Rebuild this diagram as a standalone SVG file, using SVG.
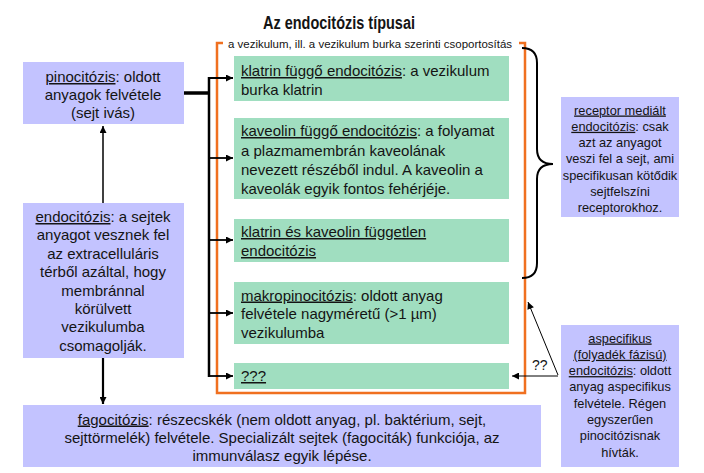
<svg xmlns="http://www.w3.org/2000/svg" width="704" height="473" viewBox="0 0 704 473">
<defs>
<marker id="ah" viewBox="0 0 10 10" refX="10" refY="5" markerUnits="userSpaceOnUse" markerWidth="8" markerHeight="7" orient="auto">
<path d="M0,0 L10,5 L0,10 Z" fill="#000"/>
</marker>
</defs>
<style>
.t{font-family:"Liberation Sans",Arial,sans-serif;fill:#141414}
.g{fill:#A0DEC0}
.p{fill:#C3C3FF}
.c{font-size:15px;text-anchor:middle}
.l{font-size:15px}
.s{font-size:12.8px;text-anchor:middle}
.u{text-decoration:underline}
.ln{stroke:#000;fill:none}
</style>
<rect width="704" height="473" fill="#fff"/>
<text class="t" x="339" y="29" font-size="18" font-weight="bold" text-anchor="middle" textLength="152" lengthAdjust="spacingAndGlyphs">Az endocitózis típusai</text>

<g id="frame">
<path d="M223 43 L217 43 L217 393 L525 393 L525 43 L519 43" fill="none" stroke="#F07020" stroke-width="2.5"/>
<text class="t" x="228" y="47.5" font-size="11" textLength="284" lengthAdjust="spacingAndGlyphs">a vezikulum, ill. a vezikulum burka szerinti csoportosítás</text>
</g>

<g id="pinocitozis">
<rect class="p" x="23" y="62" width="161" height="62"/>
<text class="t c" x="103" y="82"><tspan class="u">pinocitózis</tspan>: oldott</text>
<text class="t c" x="103" y="100">anyagok felvétele</text>
<text class="t c" x="103" y="118">(sejt ivás)</text>
</g>

<g id="endocitozis">
<rect class="p" x="23" y="203" width="161" height="155"/>
<text class="t c" x="103" y="222"><tspan class="u">endocitózis</tspan>: a sejtek</text>
<text class="t c" x="103" y="240.4">anyagot vesznek fel</text>
<text class="t c" x="103" y="258.8">az extracelluláris</text>
<text class="t c" x="103" y="277.2">térből azáltal, hogy</text>
<text class="t c" x="103" y="295.6">membránnal</text>
<text class="t c" x="103" y="314">körülvett</text>
<text class="t c" x="103" y="332.4">vezikulumba</text>
<text class="t c" x="103" y="350.8">csomagolják.</text>
</g>

<g id="fagocitozis">
<rect class="p" x="23" y="405" width="518" height="62"/>
<text class="t c" x="282" y="424.5" font-size="15.5"><tspan class="u">fagocitózis</tspan>: részecskék (nem oldott anyag, pl. baktérium, sejt,</text>
<text class="t c" x="282" y="442.5" font-size="15.5">sejttörmelék) felvétele. Specializált sejtek (fagociták) funkciója, az</text>
<text class="t c" x="282" y="460.5" font-size="15.5">immunválasz egyik lépése.</text>
</g>

<g id="klatrin">
<rect class="g" x="234" y="56" width="275" height="45"/>
<text class="t l" x="241" y="76"><tspan class="u">klatrin függő endocitózis</tspan>: a vezikulum</text>
<text class="t l" x="241" y="95">burka klatrin</text>
</g>

<g id="kaveolin">
<rect class="g" x="234" y="118" width="275" height="81"/>
<text class="t l" x="241" y="136"><tspan class="u">kaveolin függő endocitózis</tspan>: a folyamat</text>
<text class="t l" x="241" y="156">a plazmamembrán kaveolának</text>
<text class="t l" x="241" y="175">nevezett részéből indul. A kaveolin a</text>
<text class="t l" x="241" y="194">kaveolák egyik fontos fehérjéje.</text>
</g>

<g id="fuggetlen">
<rect class="g" x="234" y="219" width="275" height="43"/>
<text class="t l" x="241" y="237"><tspan class="u">klatrin és kaveolin független</tspan></text>
<text class="t l" x="241" y="256"><tspan class="u">endocitózis</tspan></text>
</g>

<g id="makropinocitozis">
<rect class="g" x="234" y="282" width="275" height="62"/>
<text class="t l" x="241" y="300.5"><tspan class="u">makropinocitózis</tspan>: oldott anyag</text>
<text class="t l" x="241" y="319">felvétele nagyméretű (&gt;1 µm)</text>
<text class="t l" x="241" y="337.5">vezikulumba</text>
</g>

<g id="ismeretlen">
<rect class="g" x="234" y="363" width="275" height="26"/>
<text class="t l" x="241" y="381"><tspan class="u">???</tspan></text>
</g>

<g id="receptor">
<rect class="p" x="561" y="97" width="118" height="120"/>
<text class="t s" x="620" y="114.5"><tspan class="u">receptor mediált</tspan></text>
<text class="t s" x="620" y="130.8"><tspan class="u">endocitózis</tspan>: csak</text>
<text class="t s" x="620" y="147.1">azt az anyagot</text>
<text class="t s" x="620" y="163.4">veszi fel a sejt, ami</text>
<text class="t s" x="620" y="179.7">specifikusan kötődik</text>
<text class="t s" x="620" y="196">sejtfelszíni</text>
<text class="t s" x="620" y="212.3">receptorokhoz.</text>
</g>

<g id="aspecifikus">
<rect class="p" x="561" y="325" width="118" height="142"/>
<text class="t s" x="620" y="342.5"><tspan class="u">aspecifikus</tspan></text>
<text class="t s" x="620" y="358.8"><tspan class="u">(folyadék fázisú)</tspan></text>
<text class="t s" x="620" y="375.1"><tspan class="u">endocitózis</tspan>: oldott</text>
<text class="t s" x="620" y="391.4">anyag aspecifikus</text>
<text class="t s" x="620" y="407.7">felvétele. Régen</text>
<text class="t s" x="620" y="424">egyszerűen</text>
<text class="t s" x="620" y="440.3">pinocitózisnak</text>
<text class="t s" x="620" y="456.6">hívták.</text>
</g>

<g id="connectors">
<line class="ln" x1="184" y1="93" x2="209" y2="93" stroke-width="3.5"/>
<line class="ln" x1="209" y1="77" x2="209" y2="377" stroke-width="2.5"/>
<line class="ln" x1="208" y1="78" x2="233" y2="78" stroke-width="2" marker-end="url(#ah)"/>
<line class="ln" x1="209" y1="158" x2="233" y2="158" stroke-width="1.8" marker-end="url(#ah)"/>
<line class="ln" x1="209" y1="240" x2="233" y2="240" stroke-width="1.8" marker-end="url(#ah)"/>
<line class="ln" x1="209" y1="313" x2="233" y2="313" stroke-width="1.8" marker-end="url(#ah)"/>
<line class="ln" x1="208" y1="376" x2="233" y2="376" stroke-width="1.8" marker-end="url(#ah)"/>
<line class="ln" x1="103" y1="203" x2="103" y2="126" stroke-width="1.5" marker-end="url(#ah)"/>
<line class="ln" x1="103" y1="358" x2="103" y2="404" stroke-width="2.2" marker-end="url(#ah)"/>
<path class="ln" d="M522 48 Q537 48 537 63 L537 149 Q537 164 553 164 Q537 164 537 179 L537 263 Q537 278 522 278" stroke-width="2"/>
<line class="ln" x1="558" y1="375" x2="528" y2="302" stroke-width="1" marker-end="url(#ah)"/>
<line class="ln" x1="558" y1="376" x2="512" y2="376" stroke-width="1" marker-end="url(#ah)"/>
<text class="t" x="532" y="370" font-size="14">??</text>
</g>
</svg>
